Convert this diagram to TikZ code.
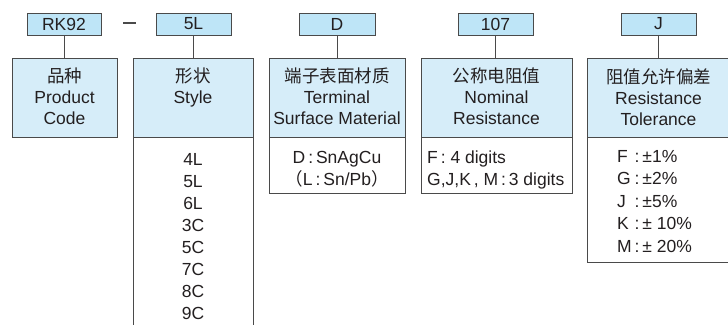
\documentclass[tikz,border=0pt]{standalone}
\usepackage{fontspec}
\setmainfont{Liberation Sans}
\newfontfamily\cjk{Noto Sans CJK SC}
\definecolor{codefill}{HTML}{BEE5F7}
\definecolor{hdrfill}{HTML}{D6EDF9}
\definecolor{edge}{HTML}{4A4A4A}
\definecolor{ink}{HTML}{231F20}
\begin{document}
\begin{tikzpicture}[x=1pt,y=-1pt,
  every node/.style={text=ink},
  codebox/.style={draw=edge, fill=codefill, line width=0.9pt, minimum height=22pt, inner sep=0pt, font=\fontsize{17.5}{21}\selectfont},
  hdrbox/.style={draw=edge, fill=hdrfill, line width=0.9pt, inner sep=0pt, minimum height=79pt},
  listbox/.style={draw=edge, fill=white, line width=0.9pt, inner sep=0pt},
  htext/.style={align=center, inner sep=0pt, anchor=north, font=\fontsize{17.5}{21}\selectfont},
  ltext/.style={inner sep=0pt, anchor=north, font=\fontsize{17.5}{22}\selectfont},
  conn/.style={draw=edge, line width=1pt}]
\useasboundingbox (0,0) rectangle (728,324);
% code boxes
\node[codebox, minimum width=74pt] (c1) at (64,24) {RK92};
\node[codebox, minimum width=75pt] (c2) at (193.5,24) {5L};
\node[codebox, minimum width=76pt] (c3) at (337,24) {D};
\node[codebox, minimum width=75pt] (c4) at (495.5,24) {107};
\node[codebox, minimum width=75pt] (c5) at (658.5,24) {J};
\draw[line width=1.6pt, edge] (123,23) -- (136,23);
% list boxes
\node[listbox, minimum width=120pt, minimum height=193pt] (l2) at (193,233.5) {};
\node[listbox, minimum width=136pt, minimum height=56pt] (l3) at (337,165) {};
\node[listbox, minimum width=151pt, minimum height=56pt] (l4) at (496.5,165) {};
\node[listbox, minimum width=143pt, minimum height=125pt] (l5) at (658.5,199.5) {};
% header boxes
\node[hdrbox, minimum width=105pt] (h1) at (64.5,97.5) {};
\node[hdrbox, minimum width=120pt] (h2) at (193,97.5) {};
\node[hdrbox, minimum width=136pt] (h3) at (337,97.5) {};
\node[hdrbox, minimum width=151pt] (h4) at (496.5,97.5) {};
\node[hdrbox, minimum width=143pt] (h5) at (658.5,97.5) {};
% connectors
\draw[conn] (c1.south) -- (c1.south |- h1.north);
\draw[conn] (c2.south) -- (c2.south |- h2.north);
\draw[conn] (c3.south) -- (c3.south |- h3.north);
\draw[conn] (c4.south) -- (c4.south |- h4.north);
\draw[conn] (c5.south) -- (c5.south |- h5.north);
% header texts
\node[htext] (t1) at (64.5,68) {\strut{\cjk 品种}\\Product\\Code};
\node[htext] (t2) at (193,68) {\strut{\cjk 形状}\\Style};
\node[htext] (t3) at (337,68) {\strut{\cjk 端子表面材质}\\Terminal\\Surface Material};
\node[htext] (t4) at (496.5,68) {\strut{\cjk 公称电阻值}\\Nominal\\Resistance};
\node[htext] (t5) at (658.5,68) {\strut{\cjk 阻值允许偏差}\\Resistance\\Tolerance};
% list texts
\node[ltext, align=center] (s2) at (193,149.6) {\strut 4L\\5L\\6L\\3C\\5C\\7C\\8C\\9C};
\node[ltext, align=center] (s3) at (337,147.6) {\strut D\,:\,SnAgCu\\{\cjk （}L\,:\,Sn/Pb{\cjk ）}};
\node[ltext, align=left, anchor=north west] (s4) at (427,147.6) {\strut F\,: 4 digits\\G,J,K\,, M\,:\,3 digits};
\node[inner sep=0pt, anchor=north west, font=\fontsize{17.5}{22.5}\selectfont] (s5) at (617,146.5)
  {\begin{tabular}{@{}l@{\,:\,}l@{}}F&±1\%\\G&±2\%\\J&±5\%\\K&± 10\%\\M&± 20\%\end{tabular}};
\end{tikzpicture}
\end{document}
